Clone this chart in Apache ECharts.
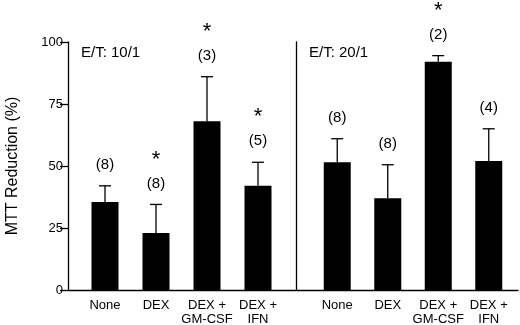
<!DOCTYPE html>
<html>
<head>
<meta charset="utf-8">
<script src="https://cdn.jsdelivr.net/npm/echarts@6/dist/echarts.min.js"></script>
<style>
  html, body { margin: 0; padding: 0; background: #fff; }
  #chart { width: 520px; height: 325px; }
</style>
</head>
<body>
<div id="chart"></div>
<script>
// treatment groups, same for both E/T ratios
var categories = ['None', 'DEX', 'DEX +\nGM-CSF', 'DEX +\nIFN'];

// E/T 10/1
var mean10 = [35.5, 23, 68, 42];
var upper10 = [42, 34.5, 86, 51.5];
var n10 = [8, 8, 3, 5];
var sig10 = [false, true, true, true];

// E/T 20/1
var mean20 = [51.5, 37, 92, 52];
var upper20 = [61, 50.5, 94.5, 65];
var n20 = [8, 8, 2, 4];
var sig20 = [false, false, true, false];

var panelTitles = ['E/T: 10/1', 'E/T: 20/1'];

var font = 'Liberation Sans, Arial, Helvetica, sans-serif';

function errorSeries(gridIdx, means, uppers, ns, sigs) {
    var data = means.map(function (m, i) { return [i, m, uppers[i], ns[i], sigs[i] ? 1 : 0]; });
    return {
        type: 'custom',
        xAxisIndex: gridIdx,
        yAxisIndex: gridIdx,
        clip: false,
        z: 5,
        data: data,
        renderItem: function (params, api) {
            var x = api.value(0);
            var low = api.coord([x, api.value(1)]);
            var high = api.coord([x, api.value(2)]);
            var cap = 6;
            var style = { stroke: '#000', lineWidth: 1.3 };
            var children = [
                { type: 'line', shape: { x1: low[0], y1: low[1], x2: high[0], y2: high[1] }, style: style },
                { type: 'line', shape: { x1: high[0] - cap, y1: high[1], x2: high[0] + cap, y2: high[1] }, style: style },
                { type: 'text', style: {
                    text: '(' + api.value(3) + ')', x: high[0], y: high[1] - 21,
                    align: 'center', verticalAlign: 'middle',
                    fontSize: 15, fontFamily: font, fill: '#000' } }
            ];
            if (api.value(4)) {
                children.push({ type: 'text', style: {
                    text: '*', x: high[0], y: high[1] - 45,
                    align: 'center', verticalAlign: 'middle',
                    fontSize: 22, fontFamily: font, fill: '#000' } });
            }
            return { type: 'group', children: children };
        }
    };
}

var chart = echarts.init(document.getElementById('chart'));

var catAxis = function (gridIdx) {
    return {
        type: 'category', gridIndex: gridIdx, data: categories,
        axisLine: { show: false }, axisTick: { show: false },
        axisLabel: { interval: 0, color: '#000', fontSize: 13, fontFamily: font, lineHeight: 14, margin: 8 }
    };
};

var option = {
    animation: false,
    grid: [
        { left: 79.5, width: 204, top: 42, bottom: 35, outerBoundsMode: 'none' },
        { left: 312, width: 202, top: 42, bottom: 35, outerBoundsMode: 'none' },
        { left: 68, right: 2, top: 42, bottom: 35, outerBoundsMode: 'none' }
    ],
    title: [
        { text: panelTitles[0], left: 76, top: 40, textStyle: { fontSize: 15, fontWeight: 'normal', fontFamily: font, color: '#000' } },
        { text: panelTitles[1], left: 304, top: 40, textStyle: { fontSize: 15, fontWeight: 'normal', fontFamily: font, color: '#000' } }
    ],
    xAxis: [
        catAxis(0),
        catAxis(1),
        { type: 'value', gridIndex: 2, min: 0, max: 1,
          axisLine: { show: true, lineStyle: { color: '#000', width: 1.3 } },
          axisTick: { show: false }, axisLabel: { show: false }, splitLine: { show: false } }
    ],
    yAxis: [
        { type: 'value', gridIndex: 0, min: 0, max: 100, interval: 25, offset: 11.5,
          name: 'MTT Reduction (%)', nameLocation: 'middle', nameGap: 47,
          nameTextStyle: { fontSize: 16, fontFamily: font, color: '#000' },
          axisLine: { show: true, lineStyle: { color: '#000', width: 1.3 } },
          axisTick: { show: true, length: 8, lineStyle: { color: '#000', width: 1.3 } },
          axisLabel: { color: '#000', fontSize: 13, fontFamily: font, margin: 5,
                       showMinLabel: true, showMaxLabel: true, hideOverlap: false },
          splitLine: { show: false } },
        { type: 'value', gridIndex: 1, min: 0, max: 100, interval: 25, offset: 16,
          axisLine: { show: true, lineStyle: { color: '#000', width: 1.3 } },
          axisTick: { show: false }, axisLabel: { show: false }, splitLine: { show: false } },
        { type: 'value', gridIndex: 2, min: 0, max: 100, show: false }
    ],
    series: [
        { type: 'bar', xAxisIndex: 0, yAxisIndex: 0, data: mean10, barWidth: 27,
          itemStyle: { color: '#000' } },
        { type: 'bar', xAxisIndex: 1, yAxisIndex: 1, data: mean20, barWidth: 27,
          itemStyle: { color: '#000' } },
        errorSeries(0, mean10, upper10, n10, sig10),
        errorSeries(1, mean20, upper20, n20, sig20)
    ]
};

chart.setOption(option);
</script>
</body>
</html>
